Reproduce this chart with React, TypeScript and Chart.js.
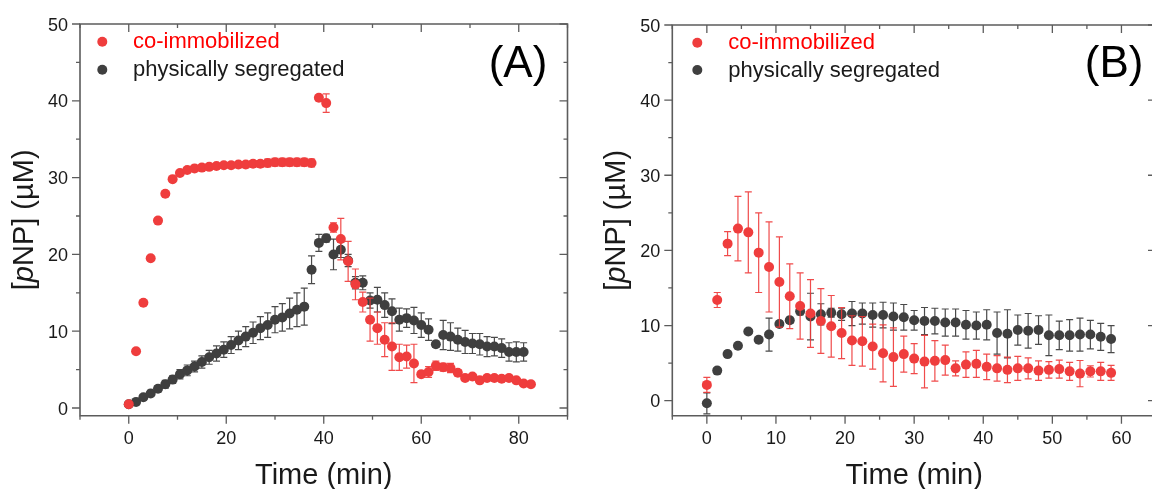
import React, { useEffect, useRef } from 'react';
import { Chart, registerables } from 'chart.js';

Chart.register(...registerables);

// ---------------- data ----------------
const SERIES_NAMES = ['co-immobilized', 'physically segregated'];
const PANEL_LETTERS = ['(A)', '(B)'];
const X_TITLE = 'Time (min)';

const TIME_A = [0, 1.5, 3, 4.5, 6, 7.5, 9, 10.5, 12, 13.5, 15, 16.5, 18, 19.5, 21, 22.5, 24, 25.5, 27, 28.5, 30, 31.5, 33, 34.5, 36, 37.5, 39, 40.5, 42, 43.5, 45, 46.5, 48, 49.5, 51, 52.5, 54, 55.5, 57, 58.5, 60, 61.5, 63, 64.5, 66, 67.5, 69, 70.5, 72, 73.5, 75, 76.5, 78, 79.5, 81, 82.5];
const RED_A = [0.5, 7.4, 13.7, 19.5, 24.4, 27.9, 29.8, 30.6, 31.0, 31.2, 31.3, 31.4, 31.5, 31.6, 31.6, 31.7, 31.7, 31.8, 31.8, 31.9, 32.0, 32.0, 32.0, 32.0, 32.0, 31.9, 40.4, 39.7, 23.5, 22.0, 19.1, 16.1, 13.8, 11.5, 10.4, 8.9, 8.0, 6.6, 6.7, 5.8, 4.4, 4.7, 5.5, 5.3, 5.2, 4.6, 3.9, 4.1, 3.6, 3.9, 3.9, 3.8, 3.9, 3.6, 3.2, 3.1];
const RED_A_ERR = [0.3, 0.2, 0.2, 0.2, 0.2, 0.2, 0.2, 0.3, 0.3, 0.3, 0.3, 0.3, 0.3, 0.3, 0.3, 0.4, 0.4, 0.4, 0.4, 0.5, 0.5, 0.5, 0.5, 0.5, 0.5, 0.5, 0.3, 1.2, 0.6, 2.7, 2.6, 2.0, 1.3, 2.8, 2.1, 2.2, 3.1, 1.7, 1.5, 2.5, 0.4, 0.7, 0.6, 0.5, 0.6, 0.4, 0.3, 0.3, 0.3, 0.3, 0.3, 0.3, 0.3, 0.3, 0.3, 0.3];
const DARK_A = [0.5, 0.8, 1.4, 1.9, 2.5, 3.1, 3.7, 4.4, 4.9, 5.4, 6.0, 6.6, 7.1, 7.6, 8.2, 8.8, 9.3, 9.8, 10.4, 10.8, 11.5, 11.8, 12.3, 12.8, 13.2, 18.0, 21.5, 22.1, 20.0, 20.6, 19.2, 16.3, 16.3, 14.0, 14.1, 13.4, 12.6, 11.5, 11.7, 11.4, 10.8, 10.2, 8.3, 9.5, 9.3, 8.9, 8.6, 8.4, 8.3, 8.0, 8.0, 7.8, 7.3, 7.3, 7.3];
const DARK_A_ERR = [0.2, 0.3, 0.3, 0.4, 0.4, 0.5, 0.5, 0.6, 0.7, 0.7, 0.8, 0.9, 1.0, 1.0, 1.1, 1.2, 1.3, 1.4, 1.5, 1.6, 1.7, 1.8, 2.0, 2.2, 2.4, 1.8, 1.1, 0.5, 2.0, 1.0, 0.8, 0.8, 0.9, 1.0, 1.6, 1.6, 1.6, 1.5, 1.2, 1.7, 1.6, 1.4, 0.4, 1.9, 1.8, 1.5, 1.5, 1.3, 1.4, 1.3, 1.2, 1.2, 1.2, 1.3, 1.2];

const TIME_B = [0, 1.5, 3, 4.5, 6, 7.5, 9, 10.5, 12, 13.5, 15, 16.5, 18, 19.5, 21, 22.5, 24, 25.5, 27, 28.5, 30, 31.5, 33, 34.5, 36, 37.5, 39, 40.5, 42, 43.5, 45, 46.5, 48, 49.5, 51, 52.5, 54, 55.5, 57, 58.5];
const RED_B = [2.1, 13.4, 20.9, 22.9, 22.4, 19.7, 17.8, 15.8, 13.9, 12.6, 11.6, 10.6, 9.9, 9.0, 8.0, 7.9, 7.2, 6.3, 5.8, 6.2, 5.6, 5.2, 5.3, 5.4, 4.3, 4.8, 4.9, 4.5, 4.3, 4.1, 4.3, 4.3, 4.0, 4.1, 4.2, 3.9, 3.6, 3.9, 3.9, 3.7];
const RED_B_ERR = [1.0, 1.0, 1.6, 4.3, 5.4, 5.3, 6.0, 6.0, 4.3, 4.4, 4.5, 4.3, 4.1, 3.4, 3.3, 3.3, 3.0, 3.8, 3.9, 2.4, 2.0, 3.5, 2.7, 2.0, 1.0, 1.7, 1.8, 1.7, 1.7, 1.7, 1.6, 1.4, 1.3, 1.1, 1.2, 1.2, 1.75, 0.75, 1.2, 1.0];
const DARK_B = [-0.35, 4.0, 6.2, 7.3, 9.2, 8.1, 8.8, 10.2, 10.7, 11.9, 11.2, 11.5, 11.7, 11.5, 11.6, 11.6, 11.4, 11.4, 11.2, 11.1, 10.7, 10.6, 10.6, 10.4, 10.4, 10.1, 10.0, 10.1, 9.0, 8.9, 9.4, 9.3, 9.4, 8.7, 8.7, 8.7, 8.8, 8.8, 8.5, 8.2];
const DARK_B_ERR = [1.4, 0.4, 0.4, 0.3, 0.3, 0.3, 2.2, 0.4, 0.4, 0.5, 3.1, 1.4, 0.6, 0.8, 1.6, 1.4, 1.6, 1.7, 1.8, 1.7, 1.3, 1.8, 1.7, 1.8, 1.8, 1.9, 1.8, 2.0, 2.8, 3.2, 2.0, 2.3, 1.9, 2.7, 1.9, 2.1, 2.2, 1.9, 1.8, 1.8];

const Y_TICKS = [0, 10, 20, 30, 40, 50];
const Y_MINOR = [5, 15, 25, 35, 45];
const X_TICKS_A = [0, 20, 40, 60, 80];
const X_MINOR_A = [-10, 10, 30, 50, 70, 90];
const X_TICKS_B = [0, 10, 20, 30, 40, 50, 60];
const X_MINOR_B = [-5, 5, 15, 25, 35, 45, 55, 65];

// ---------------- styles ----------------
const RED = '#EF3D3D';
const DARK = '#3F3F3F';
const RED_TEXT = '#FF0000';
const TEXT = '#1A1A1A';
const AXIS = '#5C5C5C';
const FONT = '"Liberation Sans", Arial, sans-serif';

type PanelCfg = {
  letter: string;
  times: number[];
  red: number[]; redErr: number[];
  dark: number[]; darkErr: number[];
  xMin: number; xMax: number; yMin: number; yMax: number;
  xTicks: number[]; xMinor: number[];
  canvasLeft: number; canvasWidth: number;
  padTop: number; padRight: number; yAxisW: number; xAxisH: number;
  legendX: number; legendTextX: number; legendY: number[];
  letterX: number;
};

const PANELS: PanelCfg[] = [
  {
    letter: PANEL_LETTERS[0], times: TIME_A, red: RED_A, redErr: RED_A_ERR, dark: DARK_A, darkErr: DARK_A_ERR,
    xMin: -10, xMax: 90, yMin: -1, yMax: 50, xTicks: X_TICKS_A, xMinor: X_MINOR_A,
    canvasLeft: 0, canvasWidth: 576, padTop: 24, padRight: 8.5, yAxisW: 80, xAxisH: 73.3,
    legendX: 102.3, legendTextX: 133, legendY: [41.7, 69.7], letterX: 518,
  },
  {
    letter: PANEL_LETTERS[1], times: TIME_B, red: RED_B, redErr: RED_B_ERR, dark: DARK_B, darkErr: DARK_B_ERR,
    xMin: -5, xMax: 65, yMin: -2, yMax: 50, xTicks: X_TICKS_B, xMinor: X_MINOR_B,
    canvasLeft: 576, canvasWidth: 585, padTop: 25, padRight: 0, yAxisW: 96.3, xAxisH: 73.3,
    legendX: 121.3, legendTextX: 152.3, legendY: [42.7, 70], letterX: 538.2,
  },
];

function makeDecor(p: PanelCfg) {
  return {
    id: 'decor' + p.letter,
    beforeDatasetDraw(chart: any, args: any) {
      const ds = chart.data.datasets[args.index];
      const errs: number[] = ds.errors;
      if (!errs) return;
      const ctx = chart.ctx;
      const xs = chart.scales.x, ys = chart.scales.y;
      ctx.save();
      ctx.strokeStyle = ds.errColor;
      ctx.lineWidth = 1.2;
      ds.data.forEach((pt: any, i: number) => {
        const e = errs[i];
        if (!e) return;
        const px = xs.getPixelForValue(pt.x);
        const y1 = ys.getPixelForValue(pt.y + e);
        const y2 = ys.getPixelForValue(pt.y - e);
        ctx.beginPath();
        ctx.moveTo(px, y1); ctx.lineTo(px, y2);
        ctx.moveTo(px - 3.5, y1); ctx.lineTo(px + 3.5, y1);
        ctx.moveTo(px - 3.5, y2); ctx.lineTo(px + 3.5, y2);
        ctx.stroke();
      });
      ctx.restore();
    },
    afterDraw(chart: any) {
      const ctx = chart.ctx;
      const ca = chart.chartArea;
      const xs = chart.scales.x, ys = chart.scales.y;
      ctx.save();
      // frame
      ctx.strokeStyle = AXIS;
      ctx.lineWidth = 1.6;
      ctx.beginPath();
      ctx.rect(ca.left, ca.top, ca.right - ca.left, ca.bottom - ca.top);
      ctx.stroke();
      // ticks
      ctx.lineWidth = 1.3;
      ctx.beginPath();
      const MAJ = 8, MIN = 4;
      p.xTicks.forEach((v) => {
        const x = xs.getPixelForValue(v);
        ctx.moveTo(x, ca.bottom); ctx.lineTo(x, ca.bottom + MAJ);
        ctx.moveTo(x, ca.top); ctx.lineTo(x, ca.top + MAJ);
      });
      p.xMinor.forEach((v) => {
        const x = xs.getPixelForValue(v);
        ctx.moveTo(x, ca.bottom); ctx.lineTo(x, ca.bottom + MIN);
        ctx.moveTo(x, ca.top); ctx.lineTo(x, ca.top + MIN);
      });
      Y_TICKS.forEach((v) => {
        const y = ys.getPixelForValue(v);
        ctx.moveTo(ca.left - MAJ, y); ctx.lineTo(ca.left, y);
        ctx.moveTo(ca.right - MAJ, y); ctx.lineTo(ca.right, y);
      });
      Y_MINOR.forEach((v) => {
        const y = ys.getPixelForValue(v);
        ctx.moveTo(ca.left - MIN, y); ctx.lineTo(ca.left, y);
        ctx.moveTo(ca.right - MIN, y); ctx.lineTo(ca.right, y);
      });
      ctx.stroke();
      // tick labels
      ctx.fillStyle = TEXT;
      ctx.font = '18px ' + FONT;
      ctx.textBaseline = 'alphabetic';
      ctx.textAlign = 'center';
      p.xTicks.forEach((v) => {
        ctx.fillText(String(v), xs.getPixelForValue(v), ca.bottom + 28);
      });
      ctx.textAlign = 'right';
      Y_TICKS.forEach((v) => {
        ctx.fillText(String(v), ca.left - 12, ys.getPixelForValue(v) + 6.5);
      });
      // x title
      ctx.font = '29px ' + FONT;
      ctx.textAlign = 'center';
      ctx.fillText(X_TITLE, (ca.left + ca.right) / 2, 484);
      // y title with italic p
      const segs: [string, string][] = [['[', ''], ['p', 'italic '], ['NP] (\u00B5M)', '']];
      let total = 0;
      segs.forEach(([t, st]) => { ctx.font = st + '29px ' + FONT; total += ctx.measureText(t).width; });
      ctx.translate(ca.left - 47, (ca.top + ca.bottom) / 2);
      ctx.rotate(-Math.PI / 2);
      ctx.textAlign = 'left';
      let cx = -total / 2;
      segs.forEach(([t, st]) => {
        ctx.font = st + '29px ' + FONT;
        ctx.fillText(t, cx, 0);
        cx += ctx.measureText(t).width;
      });
      ctx.setTransform(1, 0, 0, 1, 0, 0);
      // legend
      const cols = [RED, DARK];
      const tcols = [RED_TEXT, TEXT];
      ctx.font = '22px ' + FONT;
      ctx.textAlign = 'left';
      SERIES_NAMES.forEach((name, i) => {
        const ly = p.legendY[i];
        ctx.fillStyle = cols[i];
        ctx.beginPath();
        ctx.arc(p.legendX, ly, 5, 0, Math.PI * 2);
        ctx.fill();
        ctx.fillStyle = tcols[i];
        ctx.fillText(name, p.legendTextX, ly + 6.5);
      });
      // panel letter
      ctx.fillStyle = '#000';
      ctx.font = '44px ' + FONT;
      ctx.textAlign = 'center';
      ctx.fillText(p.letter, p.letterX, 77);
      ctx.restore();
    },
  };
}

function Panel({ p }: { p: PanelCfg }) {
  const ref = useRef<HTMLCanvasElement | null>(null);
  useEffect(() => {
    if (!ref.current) return;
    const chart = new Chart(ref.current, {
      type: 'scatter',
      data: {
        datasets: [
          {
            label: SERIES_NAMES[0],
            data: p.times.slice(0, p.red.length).map((t, i) => ({ x: t, y: p.red[i] })),
            errors: p.redErr,
            errColor: 'rgba(238,55,55,0.9)',
            backgroundColor: RED,
            pointRadius: 5,
            pointHoverRadius: 5,
            borderWidth: 0,
          } as any,
          {
            label: SERIES_NAMES[1],
            data: p.times.slice(0, p.dark.length).map((t, i) => ({ x: t, y: p.dark[i] })),
            errors: p.darkErr,
            errColor: '#4A4A4A',
            backgroundColor: DARK,
            pointRadius: 5,
            pointHoverRadius: 5,
            borderWidth: 0,
          } as any,
        ],
      },
      options: {
        animation: false,
        responsive: false,
        devicePixelRatio: 1,
        events: [],
        layout: { padding: { top: p.padTop, right: p.padRight, left: 0, bottom: 0 } },
        plugins: { legend: { display: false }, tooltip: { enabled: false } },
        scales: {
          x: {
            type: 'linear', min: p.xMin, max: p.xMax,
            grid: { display: false, drawTicks: false },
            border: { display: false },
            ticks: { display: false },
            afterFit: (s: any) => { s.height = p.xAxisH; },
          },
          y: {
            type: 'linear', min: p.yMin, max: p.yMax,
            grid: { display: false, drawTicks: false },
            border: { display: false },
            ticks: { display: false },
            afterFit: (s: any) => { s.width = p.yAxisW; },
          },
        },
      } as any,
      plugins: [makeDecor(p)],
    });
    return () => chart.destroy();
  }, [p]);
  return (
    <canvas
      ref={ref}
      width={p.canvasWidth}
      height={489}
      style={{ position: 'absolute', left: p.canvasLeft, top: 0, width: p.canvasWidth, height: 489 }}
    />
  );
}

export default function App() {
  return (
    <div style={{ position: 'fixed', left: 0, top: 0, width: 1152, height: 489, overflow: 'hidden', background: '#fff' }}>
      {PANELS.map((p) => <Panel key={p.letter} p={p} />)}
    </div>
  );
}
